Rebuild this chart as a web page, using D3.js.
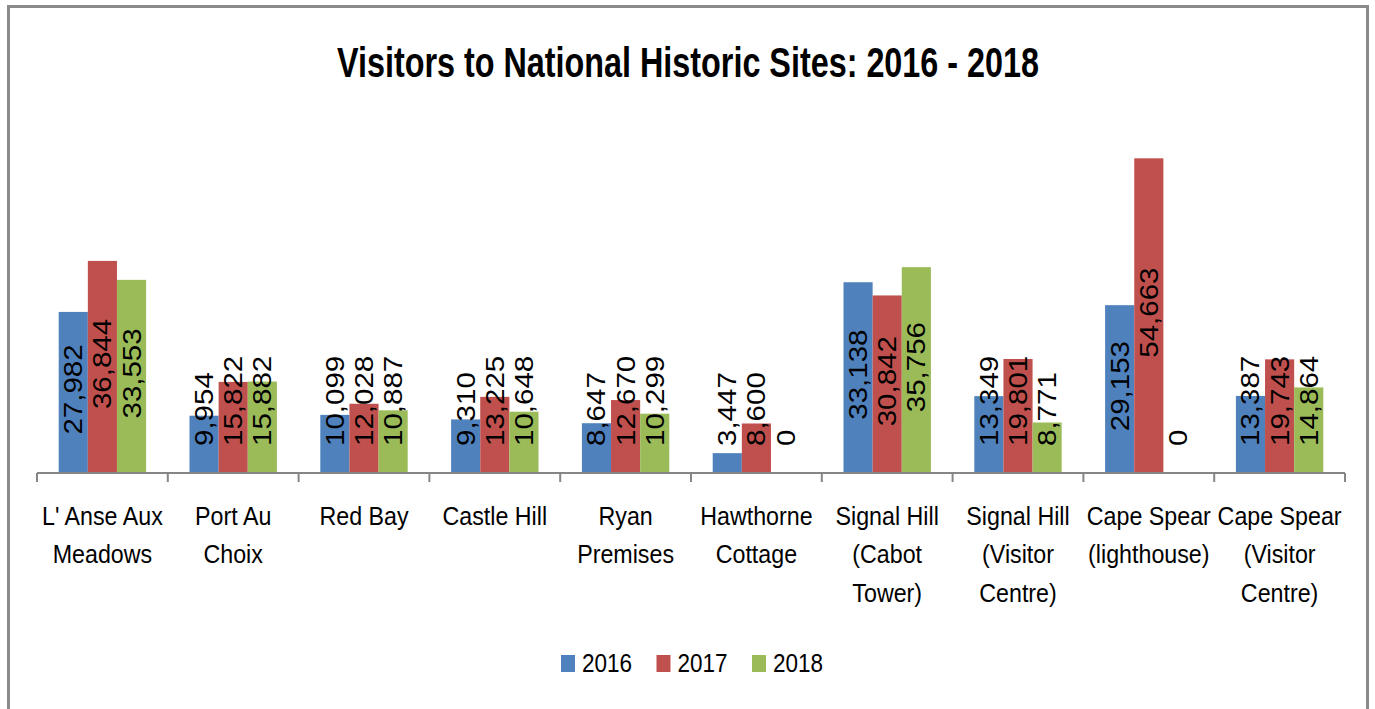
<!DOCTYPE html>
<html>
<head>
<meta charset="utf-8">
<script src="https://cdn.jsdelivr.net/npm/d3@7"></script>
<style>
  html, body { margin: 0; padding: 0; background: #fff; }
  svg { display: block; }
  text { font-family: "Liberation Sans", Arial, sans-serif; fill: #000; }
</style>
</head>
<body>
<svg id="chart" width="1375" height="709"></svg>
<script>
// ---- Data ----
const title = "Visitors to National Historic Sites: 2016 - 2018";
const categories = [
  "L' Anse Aux|Meadows",
  "Port Au|Choix",
  "Red Bay",
  "Castle Hill",
  "Ryan|Premises",
  "Hawthorne|Cottage",
  "Signal Hill|(Cabot|Tower)",
  "Signal Hill|(Visitor|Centre)",
  "Cape Spear|(lighthouse)",
  "Cape Spear|(Visitor|Centre)"
];
const seriesNames = ["2016", "2017", "2018"];
const values2016 = [27982, 9954, 10099, 9310, 8647, 3447, 33138, 13349, 29153, 13387];
const values2017 = [36844, 15822, 12028, 13225, 12670, 8600, 30842, 19801, 54663, 19743];
const values2018 = [33553, 15882, 10887, 10648, 10299, 0, 35756, 8771, 0, 14864];
const seriesColors = ["#4F81BD", "#C0504D", "#9BBB59"];
const yMax = 60000;

const seriesValues = [values2016, values2017, values2018];

// ---- Layout ----
const svg = d3.select("#chart");
const plot = { left: 37, right: 1345, top: 127.6, bottom: 473 };

// frame
svg.append("rect")
  .attr("x", 8.5).attr("y", 6.5)
  .attr("width", 1359).attr("height", 720)
  .attr("fill", "#fff")
  .attr("stroke", "#8a8a8a")
  .attr("stroke-width", 3);

// title
svg.append("text")
  .attr("transform", "translate(688,77) scale(0.77,1)")
  .attr("text-anchor", "middle")
  .attr("font-size", 42)
  .attr("font-weight", "bold")
  .text(title);

const x0 = d3.scaleBand()
  .domain(categories)
  .range([plot.left, plot.right])
  .paddingInner(0)
  .paddingOuter(0);

const x1 = d3.scaleBand()
  .domain(seriesNames)
  .range([0, x0.bandwidth()])
  .paddingOuter(0.745)
  .paddingInner(0);

const y = d3.scaleLinear()
  .domain([0, yMax])
  .range([plot.bottom, plot.top]);

// bars
const groups = svg.append("g").selectAll("g")
  .data(categories)
  .join("g")
  .attr("transform", d => `translate(${x0(d)},0)`);

const barData = (c, i) => seriesNames.map((s, j) => ({ series: s, value: seriesValues[j][i], color: seriesColors[j] }));

groups.selectAll("rect")
  .data(barData)
  .join("rect")
  .attr("x", d => x1(d.series))
  .attr("y", d => y(d.value))
  .attr("width", x1.bandwidth())
  .attr("height", d => y(0) - y(d.value))
  .attr("fill", d => d.color);

// x axis line + ticks at band boundaries
const axisG = svg.append("g").attr("class", "xaxis");
axisG.append("line")
  .attr("x1", plot.left).attr("x2", plot.right)
  .attr("y1", plot.bottom).attr("y2", plot.bottom)
  .attr("stroke", "#868686").attr("stroke-width", 2);
const tickXs = categories.map(c => x0(c)).concat([x0.range()[1]]);
axisG.selectAll("line.tick")
  .data(tickXs)
  .join("line")
  .attr("class", "tick")
  .attr("x1", d => d).attr("x2", d => d)
  .attr("y1", plot.bottom).attr("y2", plot.bottom + 9)
  .attr("stroke", "#868686").attr("stroke-width", 2);

// category labels
const catLabels = svg.append("g").selectAll("text")
  .data(categories)
  .join("text")
  .attr("text-anchor", "middle")
  .attr("font-size", 25)
  .attr("transform", d => `translate(${x0(d) + x0.bandwidth() / 2},525) scale(0.93,1)`);
catLabels.each(function (d) {
  const t = d3.select(this);
  d.split("|").forEach((line, k) => {
    t.append("tspan").attr("x", 0).attr("y", k * 38.5).text(line);
  });
});

// data labels
const fmt = d3.format(",");
const stretch = 1.18;
const labelMaxBottom = 446;
groups.selectAll("text")
  .data(barData)
  .join("text")
  .attr("font-size", 25)
  .attr("text-anchor", "middle")
  .attr("dy", "0.36em")
  .text(d => fmt(d.value))
  .each(function (d) {
    const len = this.getComputedTextLength() * stretch;
    const mid = (y(d.value) + y(0)) / 2 - 3;
    const cy = Math.min(mid, labelMaxBottom - len / 2);
    const cx = x1(d.series) + x1.bandwidth() / 2;
    d3.select(this).attr("transform", `translate(${cx},${cy}) rotate(-90) scale(${stretch},1)`);
  });

// legend
const legend = svg.append("g").attr("transform", "translate(561,655)");
const items = legend.selectAll("g")
  .data(seriesNames)
  .join("g")
  .attr("transform", (d, i) => `translate(${i * 95.5},0)`);
items.append("rect")
  .attr("width", 14).attr("height", 17)
  .attr("fill", (d, i) => seriesColors[i]);
items.append("text")
  .attr("transform", "translate(21,17) scale(0.9,1)")
  .attr("font-size", 25)
  .text(d => d);
</script>
</body>
</html>
